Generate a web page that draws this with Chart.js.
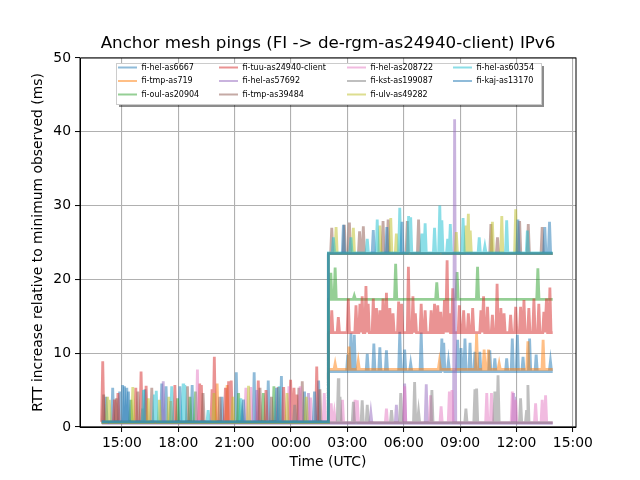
<!DOCTYPE html>
<html>
<head>
<meta charset="utf-8">
<script src="https://cdn.jsdelivr.net/npm/chart.js@4.4.1/dist/chart.umd.min.js"></script>
<style>
    html, body { margin: 0; padding: 0; background: #fff; }
</style>
</head>
<body>
<canvas id="myChart" width="640" height="480"></canvas>
<script>
// Time axis in hours since 00:00 of the first day (so 25.98 = 01:58 next day)
var xTickHours = [15, 18, 21, 24, 27, 30, 33, 36, 39];
var xTickLabels = ['15:00', '18:00', '21:00', '00:00', '03:00', '06:00', '09:00', '12:00', '15:00'];

var firstHour = 13.93;
var stepHour = 25.98;   // route change, everything jumps here
var lastHour = 37.93;

var seriesNames = [
    'fi-hel-as6667', 'fi-tmp-as719', 'fi-oul-as20904', 'fi-tuu-as24940-client',
    'fi-hel-as57692', 'fi-tmp-as39484', 'fi-hel-as208722', 'fi-kst-as199087',
    'fi-ulv-as49282', 'fi-hel-as60354', 'fi-kaj-as13170'
];

// baseline (ms) before and after the jump
var baseBefore = [0.7, 0.6, 0.6, 0.7, 0.5, 0.6, 0.6, 0.6, 0.6, 0.7, 0.7];
var baseAfter = [7.5, 7.8, 17.3, 12.8, 0.5, 23.5, 0.6, 0.6, 23.5, 23.6, 23.5];

// spikes [hour, ms]
var spikesHel6667 = [
    [14.15, 4.1], [14.51, 5.3], [14.88, 4.8], [15.04, 5.7], [15.26, 5.3], [16.23, 5.1], [17.12, 5.9],
    [17.35, 5.5], [18.09, 5.5], [18.74, 5.7], [20.33, 4.1], [21.09, 7.4], [22.04, 7.4], [22.79, 6.3],
    [23.49, 6.9], [24.72, 4.8], [25.47, 6.3],
    [27.02, 9.8], [27.19, 12.7], [27.37, 12.5], [28.06, 9.9], [28.41, 11.3], [28.73, 10.8], [29.08, 10.4],
    [29.79, 12.9], [30.05, 10.5], [30.37, 8.6], [30.93, 12.8], [32.03, 12.0], [32.13, 11.4], [32.38, 8.9],
    [32.87, 11.8], [33.05, 10.7], [33.26, 12.0], [33.53, 11.4], [33.79, 10.2], [34.05, 10.2], [34.58, 10.4],
    [34.85, 9.3], [35.48, 9.3], [35.78, 12.0], [36.05, 12.5], [36.35, 9.5], [36.7, 12.0], [37.05, 9.8],
    [37.81, 8.9]
];
var spikesTmp719 = [
    [17.6, 3.5], [20.07, 5.9], [20.6, 5.7],
    [26.35, 8.6], [27.09, 10.9], [27.58, 8.9], [31.9, 8.9], [33.88, 12.6], [34.28, 10.5], [34.51, 10.5],
    [35.08, 8.6], [36.61, 11.6], [37.42, 11.8]
];
var spikesOul20904 = [
    [15.48, 3.7], [17.96, 3.9], [18.62, 4.1], [18.92, 4.8], [21.21, 4.6], [22.53, 4.6], [23.09, 5.5],
    [26.12, 20.9], [26.35, 21.6], [27.37, 17.8], [29.57, 22.1], [31.76, 19.6], [32.84, 21.0], [33.93, 21.7],
    [37.14, 21.5]
];
var spikesTuu24940 = [
    [13.98, 8.9], [14.61, 3.7], [14.79, 4.6], [15.74, 5.3], [16.02, 7.5], [16.29, 5.6], [17.82, 5.7],
    [19.14, 5.9], [19.23, 5.7], [19.8, 5.1], [19.92, 9.5], [20.51, 5.3], [20.68, 6.2], [20.82, 6.3],
    [22.26, 6.3], [22.67, 5.0], [23.32, 5.4], [23.61, 5.4], [23.98, 6.4], [24.16, 5.3], [24.32, 4.4],
    [25.37, 8.2],
    [26.17, 15.8], [26.52, 14.9], [27.05, 17.4], [27.46, 16.5], [27.67, 16.7], [27.79, 17.7], [27.99, 19.1],
    [28.11, 16.7], [28.38, 17.4], [28.55, 16.1], [28.73, 15.8], [28.9, 17.4], [29.08, 18.2], [29.26, 16.1],
    [29.43, 15.4], [29.73, 17.0], [29.89, 16.7], [30.25, 21.7], [30.49, 17.7], [30.62, 15.4], [30.93, 16.7],
    [31.14, 15.8], [31.46, 15.8], [31.64, 16.7], [31.81, 16.5], [31.97, 15.6], [32.17, 17.2], [32.31, 22.6],
    [32.43, 15.4], [32.61, 18.8], [32.96, 16.5], [33.19, 15.8], [33.44, 15.4], [33.67, 16.1], [34.11, 15.8],
    [34.25, 17.7], [34.46, 16.3], [34.72, 15.2], [34.97, 19.4], [35.17, 16.1], [35.34, 15.4], [35.69, 15.2],
    [35.96, 16.3], [36.22, 16.3], [36.4, 17.2], [36.66, 16.1], [36.93, 17.4], [37.19, 16.7], [37.46, 15.6],
    [37.6, 17.4], [37.78, 18.9]
];
var spikesHel57692 = [
    [17.2, 6.2], [22.18, 5.0], [24.93, 4.6],
    [28.25, 1.9], [29.61, 3.0], [30.05, 5.9], [31.2, 5.8], [32.71, 41.7], [35.84, 4.6], [35.91, 4.1]
];
var spikesTmp39484 = [
    [14.03, 4.4], [14.7, 3.9], [15.85, 4.8], [16.59, 5.3], [18.49, 5.5], [19.32, 4.6], [20.21, 4.1],
    [22.35, 5.3], [22.96, 4.1], [24.42, 5.3], [24.6, 6.2], [25.54, 5.1],
    [26.17, 27.0], [26.84, 27.4], [27.11, 27.7], [27.65, 26.5], [27.85, 27.2], [28.9, 27.9], [29.17, 28.1],
    [30.19, 27.9], [30.79, 28.1], [34.64, 27.5], [34.99, 25.7], [36.17, 27.9], [36.63, 27.5], [37.37, 27.1]
];
var spikesHel208722 = [
    [19.02, 7.8], [21.6, 5.3], [21.86, 5.4], [23.89, 5.5], [24.49, 5.5], [25.04, 4.0], [25.77, 4.6],
    [26.14, 3.2], [26.31, 1.9], [26.74, 3.7], [27.41, 3.7], [27.53, 3.6], [29.08, 2.5], [30.05, 5.5],
    [31.43, 4.3], [31.99, 2.8], [32.43, 4.8], [32.57, 5.0], [34.42, 4.6], [34.67, 4.6], [35.78, 4.8],
    [35.96, 3.7], [37.02, 3.2], [37.37, 3.7], [37.55, 4.3]
];
var spikesKst199087 = [
    [16.1, 2.5], [21.4, 2.0], [24.2, 3.0],
    [26.52, 6.6], [26.61, 4.1], [27.32, 3.4], [27.79, 3.6], [28.06, 3.0], [29.35, 2.3], [29.84, 4.6],
    [30.58, 6.1], [30.79, 2.1], [31.5, 5.0], [33.31, 2.5], [33.79, 5.1], [33.88, 5.2], [34.85, 4.8],
    [35.02, 7.0], [36.22, 3.9], [36.54, 2.3], [36.61, 5.7]
];
var spikesUlv49282 = [
    [14.24, 4.1], [14.33, 3.7], [15.58, 5.4], [16.41, 3.9], [16.99, 3.7], [17.5, 4.1], [19.9, 4.6],
    [20.91, 4.1], [21.74, 5.6], [23.79, 4.6], [24.81, 4.1],
    [26.4, 27.1], [27.32, 27.0], [28.73, 27.3], [29.31, 28.3], [29.61, 26.2], [32.8, 26.4], [33.31, 27.3],
    [33.44, 28.9], [33.54, 26.6], [34.72, 27.8], [35.22, 28.6], [35.96, 29.5]
];
var spikesHel60354 = [
    [16.15, 5.0], [16.73, 4.4], [16.83, 4.9], [17.65, 5.5], [18.26, 5.9], [18.35, 5.7], [19.59, 2.3],
    [21.33, 3.9], [23.37, 5.5],
    [26.26, 25.7], [27.19, 25.7], [28.06, 25.5], [28.59, 28.1], [29.79, 29.7], [30.26, 28.6], [30.37, 28.4],
    [30.97, 26.2], [31.14, 27.6], [31.64, 27.0], [31.92, 30.0], [32.03, 28.0], [32.34, 25.5], [32.48, 27.5],
    [33.16, 28.3], [34.02, 25.7], [34.32, 24.5], [35.48, 28.0], [36.58, 26.6]
];
var spikesKaj13170 = [
    [15.14, 5.5], [15.35, 4.8], [21.47, 3.7], [23.23, 5.3], [25.25, 4.8],
    [26.79, 27.4], [28.38, 26.7], [29.1, 27.1], [29.91, 27.8], [36.08, 28.1], [37.51, 27.1], [37.76, 27.8]
];

var allSpikes = [spikesHel6667, spikesTmp719, spikesOul20904, spikesTuu24940, spikesHel57692,
    spikesTmp39484, spikesHel208722, spikesKst199087, spikesUlv49282, spikesHel60354, spikesKaj13170];

// matplotlib tab10 colours, drawn half transparent
var lineColors = [
    'rgba(31, 119, 180, 0.5)', 'rgba(255, 127, 14, 0.5)', 'rgba(44, 160, 44, 0.5)', 'rgba(214, 39, 40, 0.5)',
    'rgba(148, 103, 189, 0.5)', 'rgba(140, 86, 75, 0.5)', 'rgba(227, 119, 194, 0.5)', 'rgba(127, 127, 127, 0.5)',
    'rgba(188, 189, 34, 0.5)', 'rgba(23, 190, 207, 0.5)', 'rgba(31, 119, 180, 0.5)'
];

function buildPoints(before, after, spikes) {
    var pts = [
        {x: firstHour, y: before}, {x: stepHour, y: before},
        {x: stepHour + 0.01, y: after}, {x: lastHour, y: after}
    ];
    spikes.forEach(function (s) {
        var base = s[0] < stepHour ? before : after;
        pts.push({x: s[0] - 0.06, y: base}, {x: s[0], y: s[1]}, {x: s[0] + 0.06, y: base});
    });
    pts.sort(function (a, b) { return a.x - b.x; });
    return pts;
}

var datasets = seriesNames.map(function (name, i) {
    return {
        label: name,
        data: buildPoints(baseBefore[i], baseAfter[i], allSpikes[i]),
        borderColor: lineColors[i],
        backgroundColor: lineColors[i],
        borderWidth: 2.8,
        fill: false,
        order: seriesNames.length - i   // last series on top, like matplotlib
    };
});

// title, full frame and the boxed legend inside the plot
var decorPlugin = {
    id: 'decor',
    afterDatasetsDraw: function (chart) {
        var ctx = chart.ctx;
        var ca = chart.chartArea;
        ctx.save();

        // legend
        var bx = 116, by = 63, bw = 425, bh = 41;
        ctx.fillStyle = 'rgba(0, 0, 0, 0.45)';
        ctx.fillRect(bx + 3, by + 3, bw, bh);
        ctx.fillStyle = '#fff';
        ctx.fillRect(bx, by, bw, bh);
        ctx.strokeStyle = '#cccccc';
        ctx.lineWidth = 1;
        ctx.strokeRect(bx + 0.5, by + 0.5, bw, bh);

        var colX = [118, 219, 347, 453];
        var rowY = [67.5, 81, 94.5];
        ctx.font = '8px "DejaVu Sans"';
        ctx.textBaseline = 'middle';
        ctx.textAlign = 'left';
        chart.data.datasets.forEach(function (ds, i) {
            var cx = colX[Math.floor(i / 3)];
            var cy = rowY[i % 3];
            ctx.strokeStyle = ds.borderColor;
            ctx.lineWidth = 2;
            ctx.beginPath();
            ctx.moveTo(cx, cy);
            ctx.lineTo(cx + 19, cy);
            ctx.stroke();
            ctx.fillStyle = '#000';
            ctx.fillText(ds.label, cx + 23.5, cy);
        });

        // frame
        ctx.strokeStyle = '#000';
        ctx.lineWidth = 1;
        ctx.strokeRect(ca.left, ca.top, ca.right - ca.left, ca.bottom - ca.top);

        // title
        ctx.fillStyle = '#000';
        ctx.font = '16.7px "DejaVu Sans"';
        ctx.textAlign = 'center';
        ctx.fillText('Anchor mesh pings (FI -> de-rgm-as24940-client) IPv6', (ca.left + ca.right) / 2, 44);
        ctx.restore();
    }
};

Chart.defaults.font.family = '"DejaVu Sans"';
Chart.defaults.font.size = 13.9;
Chart.defaults.color = '#000';

var ctx1 = document.getElementById('myChart').getContext('2d');
var myChart = new Chart(ctx1, {
    type: 'line',
    data: { datasets: datasets },
    options: {
        responsive: false,
        animation: false,
        devicePixelRatio: 1,
        layout: { padding: { top: 58, right: 64, left: 0, bottom: 0 } },
        elements: { point: { radius: 0 }, line: { tension: 0 } },
        plugins: {
            legend: { display: false },
            tooltip: { enabled: false },
            title: { display: false }
        },
        scales: {
            x: {
                type: 'linear',
                min: 12.77,
                max: 39.17,
                afterBuildTicks: function (scale) {
                    scale.ticks = xTickHours.map(function (v) { return {value: v}; });
                },
                afterFit: function (scale) { scale.height = 53; },
                ticks: {
                    padding: 3,
                    maxRotation: 0,
                    callback: function (value) { return xTickLabels[xTickHours.indexOf(value)]; }
                },
                grid: { color: '#b0b0b0', lineWidth: 1.1, tickColor: '#000', tickLength: 5, tickWidth: 1 },
                border: { color: '#000', width: 1 },
                title: { display: true, text: 'Time (UTC)', padding: { top: 0, bottom: 9 } }
            },
            y: {
                min: 0,
                max: 50,
                afterFit: function (scale) { scale.width = 80; },
                ticks: { stepSize: 10, padding: 4 },
                grid: { color: '#b0b0b0', lineWidth: 1.1, tickColor: '#000', tickLength: 5, tickWidth: 1 },
                border: { color: '#000', width: 1 },
                title: {
                    display: true,
                    text: 'RTT increase relative to minimum observed (ms)',
                    padding: { top: 30, bottom: 0 }
                }
            }
        }
    },
    plugins: [decorPlugin]
});
</script>
</body>
</html>
